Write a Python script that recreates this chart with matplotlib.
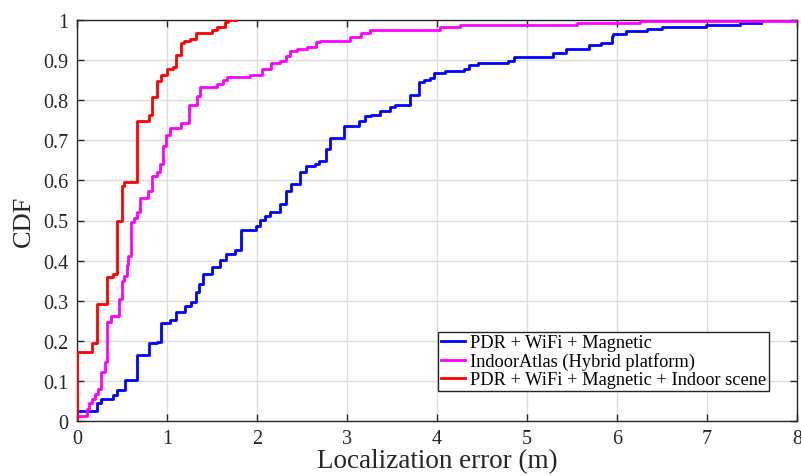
import matplotlib
matplotlib.use("Agg")
import matplotlib.pyplot as plt

# ---- data (step CDF: x where jump occurs, y after jump) ----
red_x = [0, 0, 0.167, 0.226, 0.33, 0.397, 0.448, 0.50, 0.526, 0.67, 0.796, 0.83, 0.885,
         0.933, 0.996, 1.07, 1.10, 1.156, 1.19, 1.256, 1.32, 1.496, 1.55, 1.64, 1.68, 1.77]
red_y = [0, 0.173, 0.194, 0.292, 0.36, 0.367, 0.50, 0.585, 0.595, 0.749, 0.764, 0.808, 0.849,
         0.863, 0.878, 0.884, 0.913, 0.942, 0.948, 0.953, 0.968, 0.976, 0.983, 0.994, 1.0, 1.0]

mag_x = [0, 0, 0.107, 0.135, 0.163, 0.20, 0.237, 0.263, 0.311, 0.337, 0.374, 0.47, 0.50, 0.52,
         0.55, 0.57, 0.60, 0.63, 0.663, 0.70, 0.785, 0.83, 0.893, 0.92, 0.952, 0.989, 1.033,
         1.156, 1.248, 1.337, 1.367, 1.56, 1.626, 1.663, 1.92, 2.06, 2.15, 2.256, 2.32, 2.367,
         2.44, 2.55, 2.66, 2.70, 3.03, 3.16, 3.26, 4.03, 4.26, 5.56, 6.26, 8.0]
mag_y = [0, 0.013, 0.03, 0.045, 0.055, 0.067, 0.08, 0.123, 0.146, 0.246, 0.263, 0.304, 0.35, 0.362,
         0.39, 0.412, 0.496, 0.505, 0.52, 0.556, 0.574, 0.61, 0.62, 0.641, 0.687, 0.713, 0.73,
         0.743, 0.788, 0.81, 0.834, 0.84, 0.85, 0.857, 0.864, 0.878, 0.894, 0.898, 0.911, 0.923,
         0.928, 0.933, 0.944, 0.948, 0.957, 0.968, 0.976, 0.982, 0.988, 0.993, 0.997, 0.997]

blue_x = [0, 0, 0.226, 0.263, 0.396, 0.44, 0.533, 0.67, 0.80, 0.893, 0.93, 1.033, 1.10, 1.20,
          1.267, 1.322, 1.36, 1.404, 1.496, 1.59, 1.66, 1.76, 1.819, 1.99, 2.033, 2.089, 2.144,
          2.256, 2.322, 2.374, 2.478, 2.544, 2.644, 2.693, 2.767, 2.811, 2.97, 3.137, 3.20,
          3.263, 3.367, 3.478, 3.533, 3.70, 3.80, 3.86, 3.925, 3.965, 4.085, 4.30, 4.36, 4.46,
          4.79, 4.856, 5.285, 5.43, 5.693, 5.822, 5.94, 5.96, 6.10, 6.33, 6.50, 6.99, 7.37, 7.60]
blue_y = [0, 0.026, 0.045, 0.055, 0.065, 0.078, 0.103, 0.165, 0.194, 0.198, 0.244, 0.253, 0.271,
          0.288, 0.298, 0.322, 0.342, 0.367, 0.383, 0.401, 0.417, 0.426, 0.477, 0.487, 0.501,
          0.511, 0.52, 0.541, 0.574, 0.591, 0.62, 0.637, 0.641, 0.649, 0.678, 0.705, 0.735,
          0.749, 0.76, 0.763, 0.774, 0.784, 0.789, 0.813, 0.845, 0.85, 0.855, 0.869, 0.874,
          0.878, 0.889, 0.894, 0.898, 0.907, 0.918, 0.928, 0.938, 0.943, 0.959, 0.965, 0.972,
          0.978, 0.982, 0.988, 0.993, 0.993]

labels = ["PDR + WiFi + Magnetic",
          "IndoorAtlas (Hybrid platform)",
          "PDR + WiFi + Magnetic + Indoor scene"]
x_ticks = [0, 1, 2, 3, 4, 5, 6, 7, 8]
y_ticks = [0, 0.1, 0.2, 0.3, 0.4, 0.5, 0.6, 0.7, 0.8, 0.9, 1]
y_ticklabels = ["0", "0.1", "0.2", "0.3", "0.4", "0.5", "0.6", "0.7", "0.8", "0.9", "1"]

plt.rcParams['font.family'] = ['Liberation Serif', 'DejaVu Serif']

fig = plt.figure(figsize=(8.01, 4.77), dpi=100)
ax = fig.add_axes([77/801, 55/477, 720/801, 401/477])

ax.plot(blue_x, blue_y, drawstyle='steps-post', color='#0000ff', lw=2.0, label=labels[0], zorder=3)
ax.plot(mag_x, mag_y, drawstyle='steps-post', color='#ff00ff', lw=2.0, label=labels[1], zorder=3)
ax.plot(red_x, red_y, drawstyle='steps-post', color='#ff0000', lw=2.0, label=labels[2], zorder=4)

ax.set_xlim(0, 8)
ax.set_ylim(0, 1)
ax.set_xticks(x_ticks)
ax.set_xticklabels([str(t) for t in x_ticks])
ax.set_yticks(y_ticks)
ax.set_yticklabels(y_ticklabels)
ax.grid(True, color='#dcdcdc', lw=1.0)
ax.set_axisbelow(True)
ax.tick_params(direction='in', length=5, width=1, top=True, right=True,
               labelsize=14.5, colors='#262626', pad=6)
for s in ax.spines.values():
    s.set_color('#262626')
    s.set_linewidth(1.0)

ax.set_xlabel("Localization error (m)", fontsize=19.5, color='#262626', labelpad=0)
ax.set_ylabel("CDF", fontsize=19, color='#262626', labelpad=6)

leg = ax.legend(loc='lower right', bbox_to_anchor=(0.961, 0.075), fontsize=13.2,
                frameon=True, fancybox=False, edgecolor='#262626', framealpha=1,
                handlelength=1.3, handletextpad=0.3, labelspacing=0.05,
                borderpad=0.15, borderaxespad=0)
leg.get_frame().set_linewidth(1.0)

fig.savefig("out.png", dpi=100)
